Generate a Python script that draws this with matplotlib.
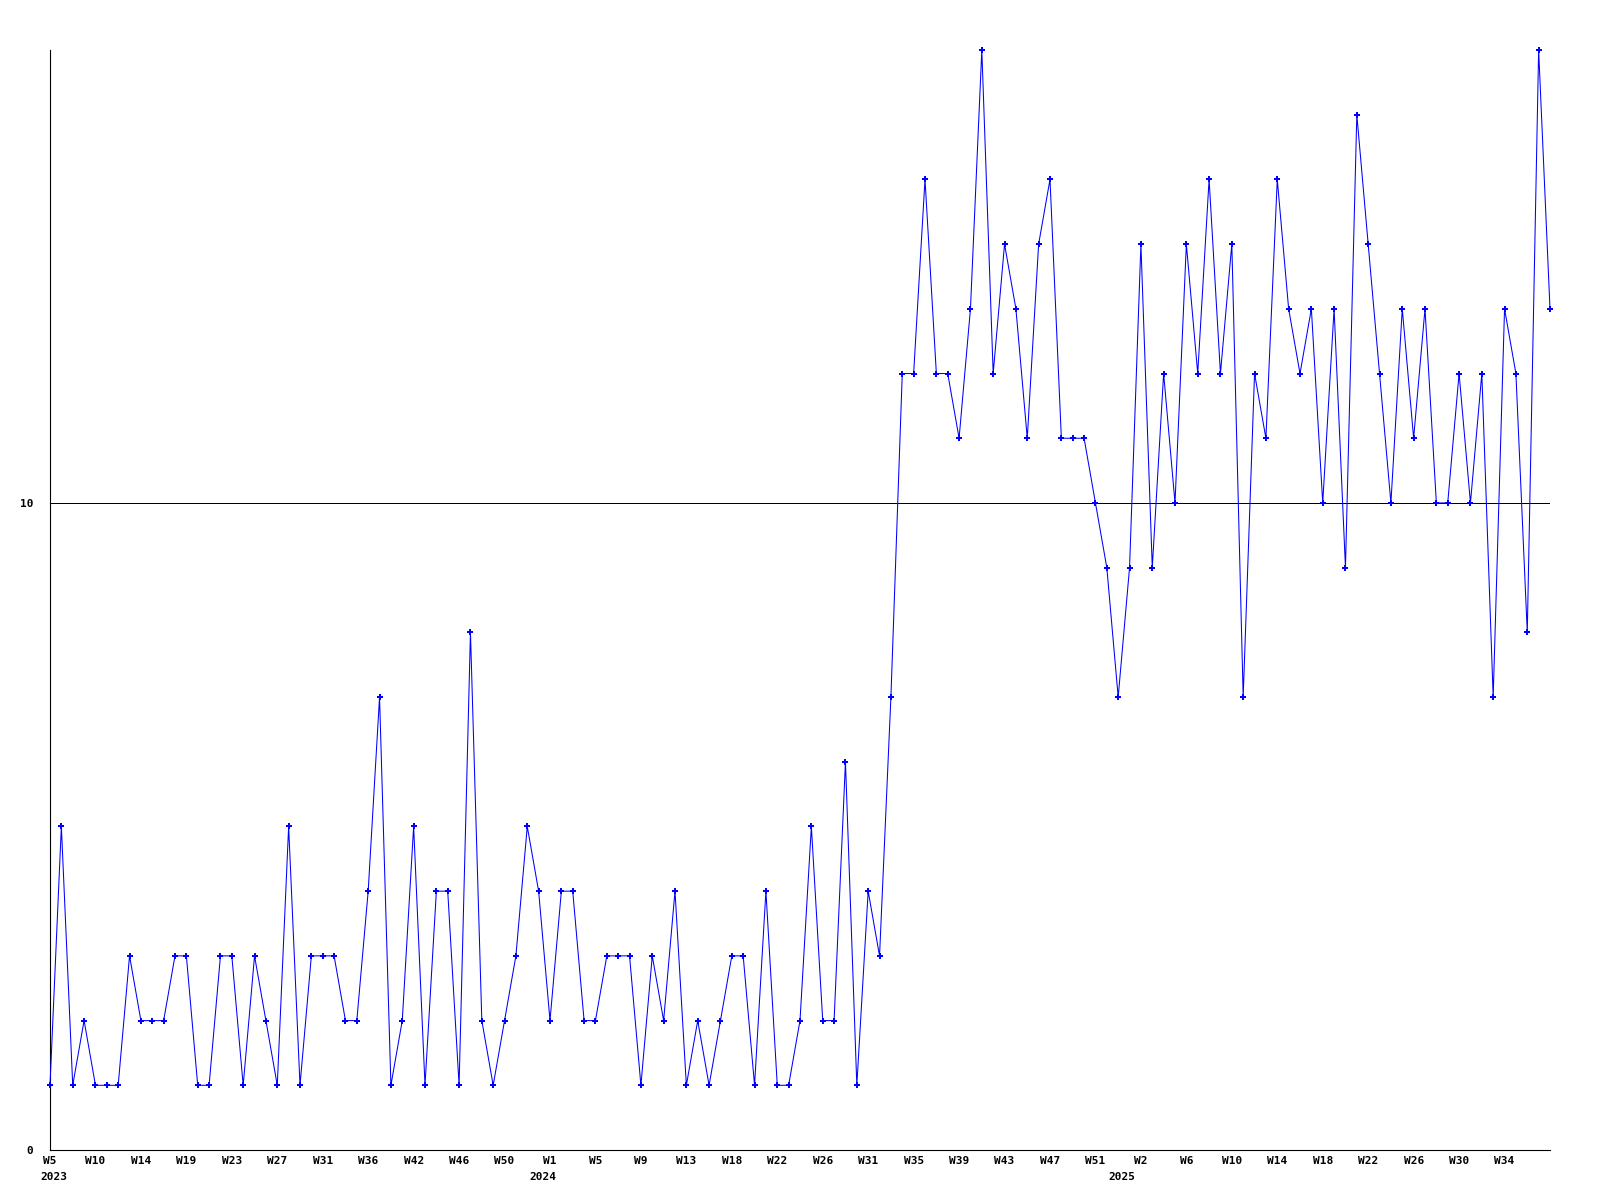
import numpy as np
import matplotlib
matplotlib.use("Agg")
import matplotlib.pyplot as plt
import matplotlib.transforms as mtransforms

# weekly values, 2023 W5 .. 2025 W3x
values = [1, 5, 1, 2, 1, 1, 1, 3, 2, 2, 2, 3, 3, 1, 1, 3, 3, 1, 3, 2,
          1, 5, 1, 3, 3, 3, 2, 2, 4, 7, 1, 2, 5, 1, 4, 4, 1, 8, 2, 1,
          2, 3, 5, 4, 2, 4, 4, 2, 2, 3, 3, 3, 1, 3, 2, 4, 1, 2, 1, 2,
          3, 3, 1, 4, 1, 1, 2, 5, 2, 2, 6, 1, 4, 3, 7, 12, 12, 15, 12, 12,
          11, 13, 17, 12, 14, 13, 11, 14, 15, 11, 11, 11, 10, 9, 7, 9, 14, 9, 12, 10,
          14, 12, 15, 12, 14, 7, 12, 11, 15, 13, 12, 13, 10, 13, 9, 16, 14, 12, 10, 13,
          11, 13, 10, 10, 12, 10, 12, 7, 13, 12, 8, 17, 13]

week_labels = ["W5", "W10", "W14", "W19", "W23", "W27", "W31", "W36", "W42", "W46", "W50",
               "W1", "W5", "W9", "W13", "W18", "W22", "W26", "W31", "W35", "W39", "W43", "W47", "W51",
               "W2", "W6", "W10", "W14", "W18", "W22", "W26", "W30", "W34"]
label_step = 4

years = ["2023", "2024", "2025"]
year_pos = [0.3, 43.4, 94.3]

ref_value = 10

fig = plt.figure(figsize=(16, 12), dpi=100)
ax = fig.add_axes([50 / 1600, 50 / 1200, 1500 / 1600, 1100 / 1200])

x = np.arange(len(values))
ax.plot(x, values, color="#0000ff", lw=0.75, marker="P", markersize=4.5,
        markeredgewidth=0, antialiased=True, clip_on=False, zorder=3)
ax.axhline(ref_value, color="black", lw=0.7, antialiased=False)

ax.set_xlim(0, len(values) - 1)
ax.set_ylim(0, 17)

for s in ["top", "right"]:
    ax.spines[s].set_visible(False)
for s in ["left", "bottom"]:
    ax.spines[s].set_linewidth(0.8)
    ax.spines[s].set_color("black")

font = dict(family="DejaVu Sans Mono", weight="bold", size=8)

ax.set_yticks([0, ref_value])
ax.set_yticklabels(["0", "10"], fontdict=font)
ax.tick_params(axis="y", length=0, pad=12)

ax.set_xticks(np.arange(0, len(values), label_step)[:len(week_labels)])
ax.set_xticklabels(week_labels, fontdict=font)
ax.tick_params(axis="x", length=0, pad=4)

trans = mtransforms.blended_transform_factory(ax.transData, ax.transAxes)
for yr, pos in zip(years, year_pos):
    ax.text(pos, -27 / 1100, yr, transform=trans, ha="center", va="center", **font)

fig.savefig("out.png", dpi=100)
